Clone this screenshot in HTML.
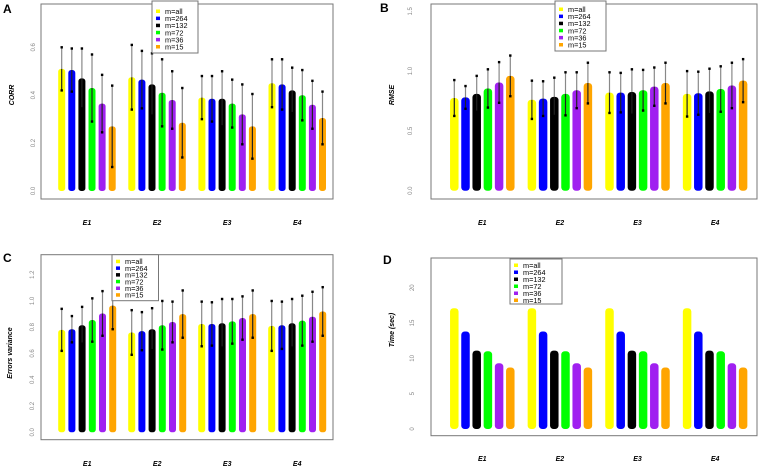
<!DOCTYPE html>
<html><head><meta charset="utf-8"><style>
body{margin:0;background:#fff;}
svg{display:block;font-family:"Liberation Sans",sans-serif;}
</style></head><body>
<svg id="chart" width="758" height="468" viewBox="0 0 758 468"></svg>
<script>
const groups = ["E1","E2","E3","E4"];
const seriesNames = ["m=all","m=264","m=132","m=72","m=36","m=15"];
const colors = ["#ffff00","#0000ff","#000000","#00ff00","#a020f0","#ffa500"];
const corrMean = [[.51,.505,.47,.43,.365,.27],[.475,.465,.445,.41,.38,.285],[.39,.385,.385,.365,.32,.27],[.45,.445,.42,.40,.36,.305]];
const corrSd = [[.09,.09,.125,.14,.12,.17],[.135,.12,.13,.14,.12,.145],[.09,.095,.115,.10,.125,.135],[.10,.105,.095,.105,.10,.11]];
const rmseMean = [[.775,.78,.81,.855,.905,.96],[.76,.77,.785,.81,.84,.90],[.82,.82,.825,.84,.87,.90],[.81,.815,.83,.85,.88,.92]];
const rmseSd = [[.15,.095,.15,.16,.17,.17],[.16,.145,.16,.18,.15,.17],[.17,.165,.19,.17,.16,.17],[.19,.18,.19,.19,.19,.18]];
const varMean = [[.78,.785,.815,.855,.905,.965],[.76,.77,.785,.815,.84,.90],[.825,.825,.83,.845,.87,.90],[.81,.815,.83,.85,.88,.92]];
const varSd = [[.16,.10,.14,.165,.17,.18],[.17,.145,.16,.185,.155,.18],[.17,.165,.185,.17,.165,.18],[.19,.18,.185,.19,.19,.185]];
const timeMean = [[17.1,13.8,11.1,11.0,9.3,8.7],[17.1,13.8,11.1,11.0,9.3,8.7],[17.1,13.8,11.1,11.0,9.3,8.7],[17.1,13.8,11.1,11.0,9.3,8.7]];
const ticksA = ["0.0","0.2","0.4","0.6"];
const ticksB = ["0.0","0.5","1.0","1.5"];
const ticksC = ["0.0","0.2","0.4","0.6","0.8","1.0","1.2"];
const ticksD = ["0","5","10","15","20"];

const svg = document.getElementById('chart');
const NS = "http://www.w3.org/2000/svg";
function mk(tag, attrs, parent){const e=document.createElementNS(NS,tag);for(const k in attrs)e.setAttribute(k,attrs[k]);(parent||svg).appendChild(e);return e;}

function panel(cfg){
  const g = mk('g',{});
  
  
  const y = v => cfg.y0 + (v - 0) * (cfg.y1px - cfg.y0) / cfg.yMaxTick;
  const box = mk('rect',{x:cfg.bx,y:cfg.by,width:cfg.bw,height:cfg.bh,fill:'none',stroke:'#777','stroke-width':1},g);
  
  
  const lt = mk('text',{x:cfg.lx,y:cfg.ly,'font-size':12,'font-weight':'bold',fill:'#000'},g);
  lt.textContent = cfg.letter;
  
  
  cfg.ticks.forEach(t=>{
    const v = parseFloat(t);
    const yy = y(v);
    const tx = mk('text',{x:0,y:0,'font-size':6,fill:'#888','text-anchor':'middle',transform:`translate(${cfg.tickX},${yy}) rotate(-90)`},g);
    tx.textContent = t;
    
    
  });
  const yt = mk('text',{x:0,y:0,'font-size':7,'font-weight':'bold','font-style':'italic',fill:'#000','text-anchor':'middle',transform:`translate(${cfg.titleX},${cfg.titleY}) rotate(-90)`},g);
  yt.textContent = cfg.title;
  
  
  groups.forEach((gn,gi)=>{
    const gx0 = cfg.gx + gi*cfg.gstep;
    cfg.mean[gi].forEach((m,si)=>{
      const cx = gx0 + si*cfg.bstep;
      const top = y(m), bot = y(0);
      const r = mk('rect',{x:cx-cfg.bwid/2,y:top,width:cfg.bwid,height:bot-top,rx:cfg.bwid/2.5,fill:colors[si]},g);
      
      
      if(cfg.sd){
        const s = cfg.sd[gi][si];
        const hi = y(m+s), lo = y(m-s);
        mk('line',{x1:cx,x2:cx,y1:hi,y2:top,stroke:'#888','stroke-width':1.2},g);
        mk('line',{x1:cx,x2:cx,y1:top,y2:lo,stroke:'#222','stroke-width':1.2},g);
        mk('rect',{x:cx-1.2,y:hi-1.2,width:2.4,height:2.4,fill:'#000'},g);
        mk('rect',{x:cx-1.2,y:lo-1.2,width:2.4,height:2.4,fill:'#000'},g);
      }
    });
    const xl = mk('text',{x:gx0+cfg.bstep*2.5,y:cfg.xly,'font-size':7,'font-weight':'bold','font-style':'italic','text-anchor':'middle',fill:'#000'},g);
    xl.textContent = gn;
    
    
  });
  const L = cfg.leg;
  const lb = mk('rect',{x:L.x,y:L.y,width:L.w,height:L.h,fill:'#fff',stroke:'#777','stroke-width':1},g);
  
  
  seriesNames.forEach((n,i)=>{
    const ey = L.y + L.pad + i*L.step;
    mk('rect',{x:L.x+4,y:ey-2,width:4,height:3.5,fill:colors[i]},g);
    const t = mk('text',{x:L.x+13,y:ey+2.5,'font-size':7.3,fill:'#000'},g);
    t.textContent = n;
    
    
  });
}

panel({letter:'A',lx:3,ly:13,bx:41,by:4,bw:292,bh:195,y0:191,y1px:47.3,yMaxTick:0.6,ticks:ticksA,tickX:35,title:'CORR',titleX:14,titleY:95,
  mean:corrMean,sd:corrSd,gx:61.7,gstep:70.1,bstep:10.1,bwid:7,xly:225,
  leg:{x:152,y:1,w:46,h:52,pad:10.5,step:7.1}});
panel({letter:'B',lx:380,ly:12,bx:431,by:4,bw:326,bh:195,y0:190.7,y1px:11.3,yMaxTick:1.5,ticks:ticksB,tickX:412,title:'RMSE',titleX:394,titleY:95,
  mean:rmseMean,sd:rmseSd,gx:454.3,gstep:77.6,bstep:11.2,bwid:8.5,xly:225,
  leg:{x:555,y:1,w:51,h:50,pad:8.5,step:7.1}});
panel({letter:'C',lx:3,ly:262,bx:41,by:254.7,bw:292,bh:185,y0:432.3,y1px:274.7,yMaxTick:1.2,ticks:ticksC,tickX:34,title:'Errors variance',titleX:12,titleY:353,
  mean:varMean,sd:varSd,gx:61.7,gstep:70,bstep:10.2,bwid:7,xly:466,
  leg:{x:112,y:254.7,w:46.5,h:46,pad:7,step:6.7}});
panel({letter:'D',lx:383,ly:264,bx:431,by:258,bw:326,bh:177.7,y0:429,y1px:287.7,yMaxTick:20,ticks:ticksD,tickX:414,title:'Time (sec)',titleX:394,titleY:330,
  mean:timeMean,sd:null,gx:454.3,gstep:77.6,bstep:11.2,bwid:8.5,xly:461,
  leg:{x:510,y:259,w:52,h:45,pad:6.5,step:7}});
</script>
</body></html>
